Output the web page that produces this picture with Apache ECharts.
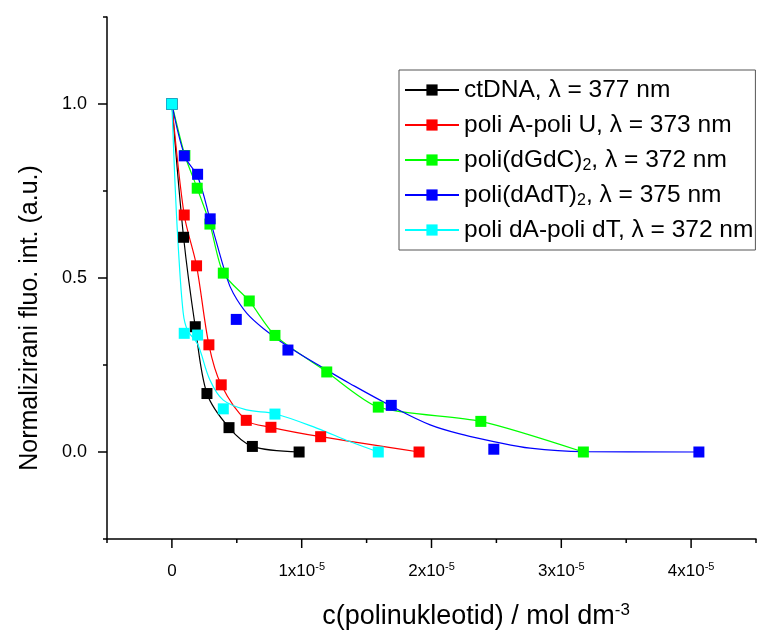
<!DOCTYPE html>
<html>
<head>
<meta charset="utf-8">
<script src="https://cdn.jsdelivr.net/npm/echarts@6/dist/echarts.min.js"></script>
<style>html,body{margin:0;padding:0;background:#fff}#c{width:758px;height:637px}</style>
</head>
<body>
<div id="c"></div>
<script>
// x values in units of 1e-5 mol dm^-3
const seriesNames = [
  'ctDNA, λ = 377 nm',
  'poli A-poli U, λ = 373 nm',
  'poli(dGdC)2, λ = 372 nm',
  'poli(dAdT)2, λ = 375 nm',
  'poli dA-poli dT, λ = 372 nm'
];
const seriesColors = ['#000000', '#ff0000', '#00ff00', '#0000ff', '#00ffff'];

const ctDNA_x = [0, 0.09, 0.18, 0.27, 0.44, 0.62, 0.98];
const ctDNA_y = [1.0, 0.617, 0.360, 0.168, 0.070, 0.016, 0.0];

const polyAU_x = [0, 0.095, 0.19, 0.285, 0.38, 0.573, 0.763, 1.146, 1.904];
const polyAU_y = [1.0, 0.681, 0.535, 0.308, 0.193, 0.091, 0.071, 0.044, 0.0];

const dGdC_x = [0, 0.1, 0.195, 0.293, 0.396, 0.596, 0.794, 1.193, 1.59, 2.38, 3.17];
const dGdC_y = [1.0, 0.852, 0.758, 0.655, 0.514, 0.434, 0.335, 0.230, 0.129, 0.088, 0.0];

const dAdT_x = [0, 0.095, 0.198, 0.295, 0.496, 0.894, 1.69, 2.48, 4.06];
const dAdT_y = [1.0, 0.851, 0.798, 0.670, 0.381, 0.293, 0.134, 0.008, 0.0];

const dAdT_fit_x = [0, 0.1, 0.2, 0.3, 0.42, 0.473, 0.576, 0.704, 0.894, 1.19, 1.37, 1.69, 1.99, 2.25, 2.48, 2.76, 3.17, 4.06];
const dAdT_fit_y = [1.0, 0.85, 0.79, 0.66, 0.504, 0.456, 0.399, 0.355, 0.303, 0.236, 0.197, 0.132, 0.078, 0.049, 0.030, 0.011, 0.001, 0.0];

const dAdT2_x = [0, 0.095, 0.198, 0.396, 0.794, 1.59];
const dAdT2_y = [1.0, 0.341, 0.336, 0.124, 0.109, 0.0];

const dAdT2_fit_x = [0, 0.023, 0.049, 0.087, 0.12, 0.198, 0.293, 0.396, 0.576, 0.794, 1.12, 1.37, 1.59];
const dAdT2_fit_y = [1.0, 0.78, 0.59, 0.40, 0.35, 0.31, 0.207, 0.149, 0.121, 0.110, 0.068, 0.030, 0.0];

// axis ranges and tick values
const xRange = [-0.5, 4.5];
const yRange = [-0.25, 1.25];
const xMajorTicks = [0, 1, 2, 3, 4];
const xMinorTicks = [-0.5, 0.5, 1.5, 2.5, 3.5, 4.5];
const yMajorTicks = [0.0, 0.5, 1.0];
const yMinorTicks = [-0.25, 0.25, 0.75, 1.25];

function pairs(xs, ys) { return xs.map((x, i) => [x, ys[i]]); }

const pointSets = [
  pairs(ctDNA_x, ctDNA_y),
  pairs(polyAU_x, polyAU_y),
  pairs(dGdC_x, dGdC_y),
  pairs(dAdT_x, dAdT_y),
  pairs(dAdT2_x, dAdT2_y)
];
const curveSets = [
  pairs(ctDNA_x, ctDNA_y),
  pairs(polyAU_x, polyAU_y),
  pairs(dGdC_x, dGdC_y),
  pairs(dAdT_fit_x, dAdT_fit_y),
  pairs(dAdT2_fit_x, dAdT2_fit_y)
];
const smoothness = [0.3, 0.3, 0.25, 0.35, 0.35];

const FONT = '"Liberation Sans", Arial, sans-serif';
const chart = echarts.init(document.getElementById('c'), null, {renderer: 'canvas'});

const series = [];
curveSets.forEach((d, i) => {
  series.push({
    type: 'line', name: seriesNames[i], data: d,
    smooth: smoothness[i], symbol: 'rect', showSymbol: false, symbolSize: 11,
    lineStyle: {color: seriesColors[i], width: 1.2},
    itemStyle: {color: seriesColors[i]},
    silent: true, animation: false, z: 2
  });
});
pointSets.forEach((d, i) => {
  series.push({
    type: 'scatter', name: seriesNames[i], data: d,
    symbol: 'rect', symbolSize: 11,
    itemStyle: {color: seriesColors[i], opacity: 1},
    animation: false, z: 3
  });
});

// axis tick marks, positioned through the axis scales
function xTickSeries(values, len, color, lw) {
  return {
    type: 'custom', silent: true, clip: false, z: 10, animation: false,
    data: values.map(v => [v, yRange[0]]),
    renderItem: (params, api) => {
      const p = api.coord([api.value(0), yRange[0]]);
      return {type: 'line', shape: {x1: p[0], y1: p[1], x2: p[0], y2: p[1] + len},
        style: {stroke: color, lineWidth: lw}};
    }
  };
}
function yTickSeries(values, len, color, lw) {
  return {
    type: 'custom', silent: true, clip: false, z: 10, animation: false,
    data: values.map(v => [xRange[0], v]),
    renderItem: (params, api) => {
      const p = api.coord([xRange[0], api.value(1)]);
      return {type: 'line', shape: {x1: p[0] - len, y1: p[1], x2: p[0], y2: p[1]},
        style: {stroke: color, lineWidth: lw}};
    }
  };
}
series.push(xTickSeries(xMajorTicks, 9, '#000', 1.5), xTickSeries(xMinorTicks, 4, '#000', 1.5),
            yTickSeries(yMajorTicks, 9, '#000', 1.5), yTickSeries(yMinorTicks, 4, '#000', 1.5));

function legendFmt(name) {
  return name.replace(')2,', '){sub|2},');
}

const axisLineStyle = {color: '#000', width: 1.5};

chart.setOption({
  backgroundColor: '#fff',
  animation: false,
  grid: {left: 107, right: 2, top: 17, bottom: 98},
  xAxis: {type: 'value', position: 'bottom', min: xRange[0], max: xRange[1],
    axisLine: {show: true, onZero: false, lineStyle: axisLineStyle},
    axisTick: {show: false},
    axisLabel: {show: true, customValues: xMajorTicks, margin: 22, color: '#000', fontFamily: FONT, fontSize: 17, lineHeight: 20,
      formatter: v => v === 0 ? '0' : v + 'x10{sup|-5}',
      rich: {sup: {fontSize: 11, lineHeight: 20, verticalAlign: 'top', padding: [0, 0, 8, 0], fontFamily: FONT, color: '#000'}}},
    splitLine: {show: false}},
  yAxis: {type: 'value', position: 'left', min: yRange[0], max: yRange[1],
    axisLine: {show: true, onZero: false, lineStyle: axisLineStyle},
    axisTick: {show: false},
    axisLabel: {show: true, customValues: yMajorTicks, margin: 20, color: '#000', fontFamily: FONT, fontSize: 18,
      formatter: v => v.toFixed(1)},
    splitLine: {show: false}},
  legend: {
    orient: 'vertical', left: 399, top: 70,
    data: seriesNames,
    itemWidth: 54, itemHeight: 14, itemGap: 7,
    padding: [6, 2, 6, 5],
    borderColor: '#555', borderWidth: 1, backgroundColor: '#fff',
    selectedMode: false,
    formatter: legendFmt,
    textStyle: {fontFamily: FONT, fontSize: 24.5, color: '#000', lineHeight: 28,
      rich: {sub: {fontSize: 16, lineHeight: 12, verticalAlign: 'bottom', fontFamily: FONT, color: '#000'}}}
  },
  graphic: [
    {type: 'text', x: 476, y: 617,
     style: {text: 'c(polinukleotid) / mol dm{sup|-3}', font: '27px ' + FONT, fill: '#000',
       align: 'center', verticalAlign: 'middle',
       rich: {sup: {fontSize: 17, verticalAlign: 'top', padding: [0, 0, 13, 0], fill: '#000', fontFamily: FONT}}}},
    {type: 'text', x: 30, y: 318, rotation: Math.PI / 2,
     style: {text: 'Normalizirani fluo. int. (a.u.)', font: '25px ' + FONT, fill: '#000',
       align: 'center', verticalAlign: 'middle'}}
  ],
  series: series
});
</script>
</body>
</html>
